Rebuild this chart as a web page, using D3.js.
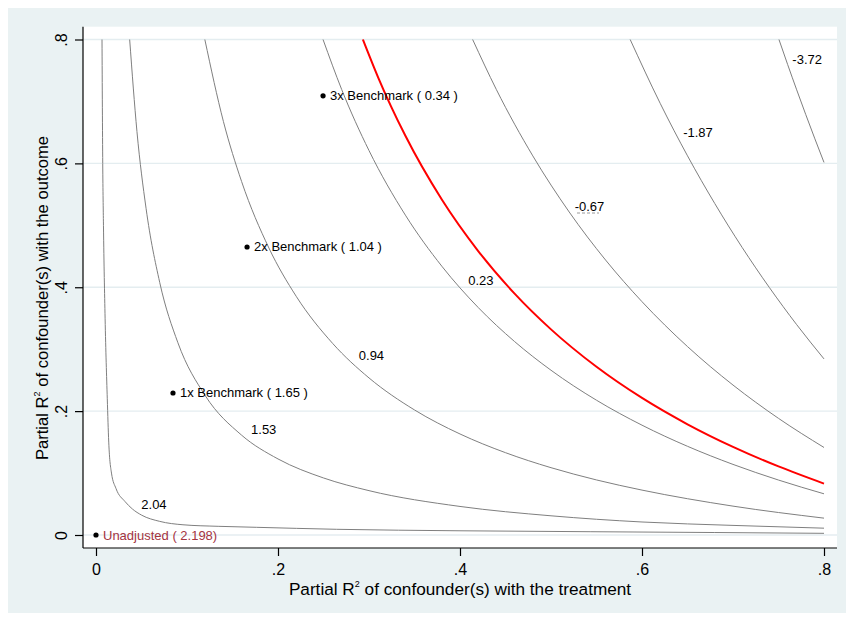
<!DOCTYPE html>
<html>
<head>
<meta charset="utf-8">
<script src="https://cdn.jsdelivr.net/npm/d3@7"></script>
<style>
  html, body { margin: 0; padding: 0; background: #ffffff; }
  svg { display: block; font-family: "Liberation Sans", Arial, sans-serif; }
</style>
</head>
<body>
<svg id="chart" width="846" height="621"></svg>
<script>
// ---------------- data ----------------
const xTicks = [0, 0.2, 0.4, 0.6, 0.8];
const yTicks = [0, 0.2, 0.4, 0.6, 0.8];
const xTickLabels = ["0", ".2", ".4", ".6", ".8"];
const yTickLabels = ["0", ".2", ".4", ".6", ".8"];

// contour levels (adjusted estimate); 0 is the red threshold line
const contourLevels = ["2.04", "1.53", "0.94", "0.23", "0", "-0.67", "-1.87", "-3.72"];

// points: [partial R2 with treatment, partial R2 with outcome]
const c204 = [[0.0066,0.80],[0.0074,0.60],[0.0082,0.50],[0.0100,0.35],[0.0124,0.22],[0.0140,0.15],[0.0170,0.100],[0.0220,0.075],[0.0319,0.054],[0.0400,0.042],[0.0502,0.032],[0.070,0.022],[0.0956,0.0165],[0.135,0.0140],[0.1766,0.0124],[0.2645,0.0092],[0.40,0.0068],[0.543,0.0053],[0.68,0.0040],[0.80,0.0027]];
const c153 = [[0.0370,0.80],[0.045,0.6515],[0.055,0.5275],[0.070,0.4079],[0.090,0.3104],[0.120,0.2251],[0.160,0.1612],[0.200,0.1228],[0.250,0.0921],[0.300,0.0716],[0.400,0.0461],[0.500,0.0310],[0.600,0.0210],[0.700,0.0155],[0.800,0.0110]];
const c094 = [[0.1196,0.80],[0.140,0.6677],[0.160,0.5707],[0.190,0.4634],[0.220,0.3854],[0.260,0.3094],[0.300,0.2536],[0.350,0.2019],[0.400,0.1631],[0.450,0.1329],[0.500,0.1087],[0.550,0.0889],[0.600,0.0725],[0.700,0.0466],[0.800,0.0272]];
const c023 = [[0.2495,0.80],[0.270,0.7192],[0.300,0.6207],[0.340,0.5164],[0.380,0.4340],[0.420,0.3673],[0.460,0.3123],[0.500,0.2660],[0.550,0.2176],[0.600,0.1773],[0.650,0.1432],[0.700,0.1140],[0.750,0.0887],[0.800,0.0665]];
const c000 = [[0.2933,0.80],[0.310,0.7390],[0.340,0.6445],[0.380,0.5417],[0.420,0.4585],[0.460,0.3897],[0.500,0.3320],[0.550,0.2716],[0.600,0.2213],[0.650,0.1788],[0.700,0.1423],[0.750,0.1107],[0.800,0.0830]];
const cm067 = [[0.4139,0.80],[0.440,0.7191],[0.480,0.6121],[0.520,0.5215],[0.560,0.4439],[0.600,0.3767],[0.650,0.3042],[0.700,0.2421],[0.750,0.1883],[0.800,0.1413]];
const cm187 = [[0.587,0.80],[0.620,0.6969],[0.650,0.6122],[0.680,0.5351],[0.710,0.4644],[0.740,0.3995],[0.770,0.3396],[0.800,0.2843]];
const cm372 = [[0.7505,0.80],[0.760,0.7598],[0.770,0.7187],[0.780,0.6786],[0.790,0.6396],[0.800,0.6015]];

// benchmark markers
const benchLabels = ["Unadjusted ( 2.198)", "1x Benchmark ( 1.65 )", "2x Benchmark ( 1.04 )", "3x Benchmark ( 0.34 )"];
const benchX = [0, 0.0846, 0.166, 0.2495];
const benchY = [0, 0.2293, 0.465, 0.709];

// ---------------- layout ----------------
const svg = d3.select("#chart");
const W = 846, H = 621;

// where each contour label sits (data units, label centre)
const labelAt = {
  "2.04": [0.0637, 0.050],
  "1.53": [0.1843, 0.170],
  "0.94": [0.3027, 0.290],
  "0.23": [0.4230, 0.411],
  "-0.67": [0.5423, 0.530],
  "-1.87": [0.6615, 0.650],
  "-3.72": [0.7815, 0.768]
};

const x = d3.scaleLinear().domain([0, 0.8]).range([96, 824]);
const y = d3.scaleLinear().domain([0, 0.8]).range([535, 39.5]);

const plotL = 83, plotR = 837, plotT = 26.7, plotB = 548;

// outer background
svg.append("rect").attr("x", 0).attr("y", 0).attr("width", W).attr("height", H).attr("fill", "#ffffff");
svg.append("rect").attr("x", 8).attr("y", 8).attr("width", W - 8).attr("height", 605).attr("fill", "#eaf2f3");
// plot region
svg.append("rect").attr("x", plotL).attr("y", plotT).attr("width", plotR - plotL).attr("height", plotB - plotT).attr("fill", "#ffffff");

// gridlines
svg.append("g").selectAll("line").data(yTicks).join("line")
  .attr("x1", plotL).attr("x2", plotR)
  .attr("y1", d => y(d)).attr("y2", d => y(d))
  .attr("stroke", "#e4edf0").attr("stroke-width", 1.4);

// contours
const contourData = [c204, c153, c094, c023, c000, cm067, cm187, cm372].map((pts, i) => ({ level: contourLevels[i], pts }));
const line = d3.line().x(d => x(d[0])).y(d => y(d[1])).curve(d3.curveMonotoneX);

svg.append("defs").append("clipPath").attr("id", "clip")
  .append("rect").attr("x", plotL).attr("y", plotT).attr("width", plotR - plotL).attr("height", plotB - plotT);

const cg = svg.append("g").attr("clip-path", "url(#clip)");
cg.selectAll("path").data(contourData.filter(d => d.level !== "0")).join("path")
  .attr("d", d => line(d.pts))
  .attr("fill", "none").attr("stroke", "#7f7f7f").attr("stroke-width", 1);
cg.selectAll("path.red").data(contourData.filter(d => d.level === "0")).join("path")
  .attr("class", "red")
  .attr("d", d => line(d.pts))
  .attr("fill", "none").attr("stroke", "#ff0000").attr("stroke-width", 2);

// contour labels
svg.append("g").selectAll("text").data(contourData.filter(d => d.level !== "0")).join("text")
  .attr("x", d => x(labelAt[d.level][0]))
  .attr("y", d => y(labelAt[d.level][1]))
  .attr("text-anchor", "middle").attr("dominant-baseline", "central")
  .attr("font-size", 13).attr("fill", "#000")
  .text(d => d.level);

// faint dashed mark under -0.67 as in the reference
svg.append("line")
  .attr("x1", 577).attr("x2", 599).attr("y1", 213).attr("y2", 213)
  .attr("stroke", "#9a9a9a").attr("stroke-width", 1).attr("stroke-dasharray", "3,2");

// benchmark points
const bench = benchLabels.map((l, i) => ({ label: l, bx: benchX[i], by: benchY[i] }));
const bg = svg.append("g");
bg.selectAll("circle").data(bench).join("circle")
  .attr("cx", d => x(d.bx)).attr("cy", d => y(d.by)).attr("r", 2.6).attr("fill", "#000");
bg.selectAll("text").data(bench).join("text")
  .attr("x", d => x(d.bx) + 7).attr("y", d => y(d.by))
  .attr("dominant-baseline", "central")
  .attr("font-size", 13)
  .attr("fill", (d, i) => i === 0 ? "#a4343f" : "#000")
  .text(d => d.label);

// axes lines
svg.append("line").attr("x1", plotL).attr("x2", plotL).attr("y1", plotT).attr("y2", plotB).attr("stroke", "#000").attr("stroke-width", 1.2);
svg.append("line").attr("x1", plotL).attr("x2", plotR).attr("y1", plotB).attr("y2", plotB).attr("stroke", "#000").attr("stroke-width", 1.2);

// x axis
const xAxis = d3.axisBottom(x).tickValues(xTicks).tickSize(8).tickPadding(8).tickFormat((d, i) => xTickLabels[i]);
const gx = svg.append("g").attr("transform", `translate(0,${plotB})`).call(xAxis);
gx.select(".domain").remove();
gx.selectAll(".tick line").attr("stroke", "#000").attr("stroke-width", 1.2);
gx.selectAll(".tick text").attr("font-size", 16).attr("font-family", "Liberation Sans, Arial, sans-serif").attr("fill", "#000");

// y axis
const yAxis = d3.axisLeft(y).tickValues(yTicks).tickSize(8).tickPadding(6).tickFormat((d, i) => yTickLabels[i]);
const gy = svg.append("g").attr("transform", `translate(${plotL},0)`).call(yAxis);
gy.select(".domain").remove();
gy.selectAll(".tick line").attr("stroke", "#000").attr("stroke-width", 1.2);
gy.selectAll(".tick text")
  .attr("font-size", 16).attr("font-family", "Liberation Sans, Arial, sans-serif").attr("fill", "#000")
  .attr("text-anchor", "middle").attr("dy", null).attr("x", 0).attr("y", 0)
  .attr("transform", "translate(-22,0) rotate(-90)")
  .attr("dominant-baseline", "central");

// axis titles
const xt = svg.append("text").attr("x", 460).attr("y", 595).attr("text-anchor", "middle")
  .attr("font-size", 17.2).attr("fill", "#000");
xt.append("tspan").text("Partial R");
xt.append("tspan").attr("font-size", 9).attr("dy", -8).text("2");
xt.append("tspan").attr("dy", 8).text(" of confounder(s) with the treatment");

const yt = svg.append("text").attr("transform", "translate(48,298) rotate(-90)").attr("text-anchor", "middle")
  .attr("font-size", 16.6).attr("fill", "#000");
yt.append("tspan").text("Partial R");
yt.append("tspan").attr("font-size", 9).attr("dy", -8).text("2");
yt.append("tspan").attr("dy", 8).text(" of confounder(s) with the outcome");
</script>
</body>
</html>
